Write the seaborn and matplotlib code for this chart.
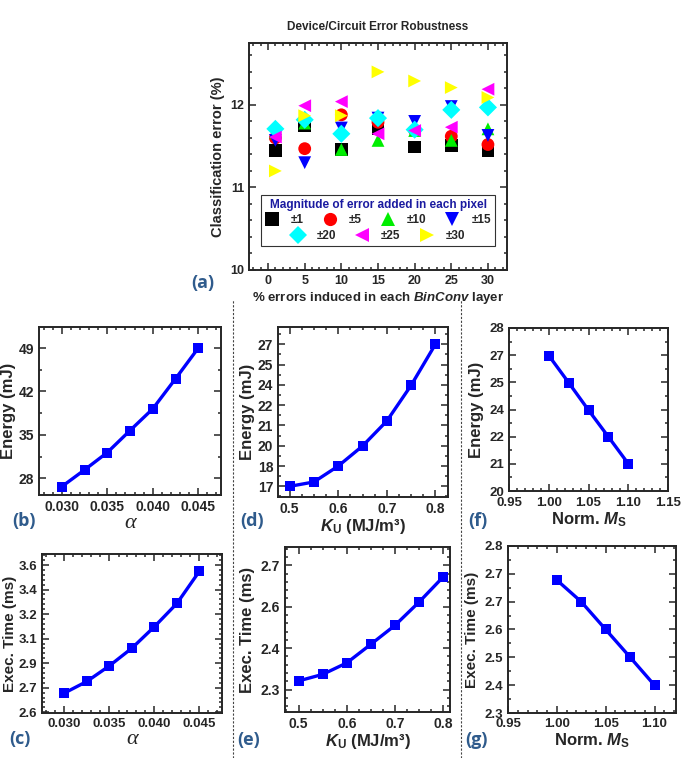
import matplotlib
matplotlib.use("Agg")
import matplotlib.pyplot as plt
import numpy as np
import pandas as pd
import seaborn as sns
from matplotlib.lines import Line2D
from matplotlib.ticker import MultipleLocator, AutoMinorLocator, FixedLocator, FixedFormatter, FormatStrFormatter

sns.set_style("ticks")
plt.rcParams['font.family'] = ['Liberation Sans', 'DejaVu Sans']
plt.rcParams['font.weight'] = 'bold'
plt.rcParams['axes.labelweight'] = 'bold'
plt.rcParams['mathtext.fontset'] = 'custom'
plt.rcParams['mathtext.it'] = 'Liberation Sans:italic:bold'
plt.rcParams['mathtext.rm'] = 'Liberation Sans:bold'
plt.rcParams['mathtext.bf'] = 'Liberation Sans:bold'

# (a) classification error vs % errors per BinConv layer
pct = [1, 5, 10, 15, 20, 25, 30]
magnitudes = ['±1', '±5', '±10', '±15', '±20', '±25', '±30']
err_1 = [11.45, 11.75, 11.46, 11.71, 11.49, 11.51, 11.45]
err_5 = [11.60, 11.47, 11.88, 11.79, 11.69, 11.62, 11.52]
err_10 = [11.67, 11.78, 11.46, 11.57, 11.69, 11.57, 11.71]
err_15 = [11.57, 11.30, 11.72, 11.84, 11.80, 11.98, 11.63]
err_20 = [11.71, 11.82, 11.65, 11.84, 11.70, 11.94, 11.97]
err_25 = [11.61, 11.99, 12.04, 11.65, 11.69, 11.73, 12.19]
err_30 = [11.20, 11.87, 11.87, 12.40, 12.29, 12.21, 12.09]

# (b)/(c) damping alpha
alpha = [0.030, 0.0325, 0.035, 0.0375, 0.040, 0.0425, 0.045]
energy_alpha = [26.65, 29.35, 32.15, 35.7, 39.2, 44.05, 49.0]
time_alpha = [2.731, 2.810, 2.916, 3.036, 3.182, 3.340, 3.559]

# (d)/(e) anisotropy Ku
ku = [0.50, 0.55, 0.60, 0.65, 0.70, 0.75, 0.80]
energy_ku = [17.0, 17.31, 18.43, 19.84, 21.6, 24.11, 27.0]
time_ku = [2.328, 2.349, 2.386, 2.446, 2.507, 2.582, 2.663]

# (f)/(g) normalised Ms
ms = [1.000, 1.025, 1.050, 1.075, 1.100]
energy_ms = [26.65, 25.32, 23.97, 22.66, 21.34]
time_ms = [2.698, 2.633, 2.550, 2.467, 2.383]

# tick labels as printed in the figure
ticks_c = ['2.6', '2.7', '2.9', '3.1', '3.2', '3.4', '3.6']
ticks_d = ['17', '18', '20', '21', '22', '24', '25', '27']
ticks_e = ['2.3', '2.4', '2.6', '2.7']
ticks_f = ['20', '21', '22', '24', '25', '27', '28']
ticks_g = ['2.3', '2.4', '2.5', '2.6', '2.7', '2.7', '2.8']

BLUE = '#0000ff'
LBL = '#2f5b8c'

W, H = 692, 758
fig = plt.figure(figsize=(W / 100, H / 100), dpi=100)


def box(l, t, r, b):
    return [l / W, 1 - b / H, (r - l) / W, (b - t) / H]


def style(ax, fs=9):
    ax.tick_params(which='both', direction='in', top=True, right=True, labelsize=fs, width=1.1)
    ax.tick_params(which='major', length=5)
    ax.tick_params(which='minor', length=2.5)
    for sp in ax.spines.values():
        sp.set_linewidth(1.4)
    for t in ax.get_xticklabels() + ax.get_yticklabels():
        t.set_fontweight('bold')


# ---- panel (a)
ax = fig.add_axes(box(249, 43, 507, 270))
errs = [err_1, err_5, err_10, err_15, err_20, err_25, err_30]
rows = []
for m, e in zip(magnitudes, errs):
    for p, v in zip(pct, e):
        rows.append(dict(pct=p, magnitude=m, error=v))
df = pd.DataFrame(rows)
palette = dict(zip(magnitudes, ['#000000', '#ff0000', '#00ee00', '#0000ff', '#00ffff', '#ff00ff', '#ffff00']))
markers = dict(zip(magnitudes, ['s', 'o', '^', 'v', 'D', '<', '>']))
sns.scatterplot(data=df, x='pct', y='error', hue='magnitude', style='magnitude', palette=palette,
                markers=markers, s=85, linewidth=0, ax=ax, legend=True)
handles, labels = ax.get_legend_handles_labels()
for h in handles:
    h.set_markersize(9.5)
blank = Line2D([], [], linestyle='none')
legkw = dict(fontsize=8.5, borderpad=0.35, handlelength=1.2, handletextpad=1.0,
             columnspacing=1.6, labelspacing=0.3)
# first legend: title, frame and first row (second row kept empty)
row1 = handles[:4] + [blank] * 4
lab1 = labels[:4] + [''] * 4
order = [0, 4, 1, 5, 2, 6, 3, 7]
leg = ax.legend([row1[i] for i in order], [lab1[i] for i in order], ncol=4, loc='lower center',
                bbox_to_anchor=(0.5, 0.08), title='Magnitude of error added in each pixel',
                title_fontsize=8.5, frameon=True, fancybox=False, edgecolor='black', **legkw)
leg.get_frame().set_linewidth(0.8)
leg.get_title().set_color('#1a1aa0')
leg.get_title().set_fontweight('bold')
ax.add_artist(leg)
# second row, centred
ax.legend(handles[4:], labels[4:], ncol=3, loc='lower center', bbox_to_anchor=(0.5, 0.08),
          frameon=False, **legkw)
ax.set_xlim(-2.6, 32.6)
ax.set_ylim(10, 12.75)
ax.xaxis.set_major_locator(MultipleLocator(5))
ax.xaxis.set_minor_locator(MultipleLocator(1))
ax.yaxis.set_major_locator(MultipleLocator(1))
ax.yaxis.set_minor_locator(MultipleLocator(0.2))
ax.set_xlabel('% errors induced in each $BinConv$ layer', fontsize=9.5, labelpad=2)
ax.set_ylabel('Classification error (%)', fontsize=10.5)
ax.set_title('Device/Circuit Error Robustness', fontsize=8.5, fontweight='bold', pad=9)
style(ax, 9)


def line_panel(rect, x, y, xlim, ylim):
    ax = fig.add_axes(box(*rect))
    sns.lineplot(x=x, y=y, ax=ax, color=BLUE, linewidth=2.4, marker='s', markersize=7,
                 markeredgewidth=0)
    ax.set_xlim(*xlim)
    ax.set_ylim(*ylim)
    return ax


def custom_y(ax, lo, hi, labels, nminor):
    ax.yaxis.set_major_locator(FixedLocator(np.linspace(lo, hi, len(labels))))
    ax.yaxis.set_major_formatter(FixedFormatter(labels))
    ax.yaxis.set_minor_locator(AutoMinorLocator(nminor))


# ---- (b)
ax = line_panel((39, 327, 221, 495), alpha, energy_alpha, (0.0275, 0.0475), (25.3, 52.4))
ax.xaxis.set_major_locator(MultipleLocator(0.005))
ax.xaxis.set_minor_locator(MultipleLocator(0.001))
ax.xaxis.set_major_formatter(FormatStrFormatter('%.3f'))
ax.yaxis.set_major_locator(FixedLocator([28, 35, 42, 49]))
ax.yaxis.set_minor_locator(MultipleLocator(3.5))
ax.set_ylabel('Energy (mJ)', fontsize=12, labelpad=2)
ax.set_xlabel('α', fontsize=16, fontfamily='Liberation Serif', fontstyle='italic', fontweight='normal', labelpad=0)
style(ax, 10)

# ---- (c)
ax = line_panel((42, 554, 222, 713), alpha, time_alpha, (0.0275, 0.0475), (2.595, 3.675))
ax.xaxis.set_major_locator(MultipleLocator(0.005))
ax.xaxis.set_minor_locator(MultipleLocator(0.001))
ax.xaxis.set_major_formatter(FormatStrFormatter('%.3f'))
custom_y(ax, 2.6, 3.6, ticks_c, 5)
ax.set_ylabel('Exec. Time (ms)', fontsize=11, labelpad=1)
ax.set_xlabel('α', fontsize=16, fontfamily='Liberation Serif', fontstyle='italic', fontweight='normal', labelpad=0)
style(ax, 9.5)

# ---- (d)
ax = line_panel((278, 327, 448, 497), ku, energy_ku, (0.476, 0.826), (16.25, 28.22))
ax.xaxis.set_major_locator(MultipleLocator(0.1))
ax.xaxis.set_minor_locator(MultipleLocator(0.025))
ax.xaxis.set_major_formatter(FormatStrFormatter('%.1f'))
custom_y(ax, 17, 27, ticks_d, 2)
ax.set_ylabel('Energy (mJ)', fontsize=12, labelpad=2)
ax.set_xlabel(r'$K_\mathrm{U}$ (MJ/m³)', fontsize=12, labelpad=1)
style(ax, 10)

# ---- (e)
ax = line_panel((285, 547, 450, 712), ku, time_ku, (0.472, 0.814), (2.228, 2.759))
ax.xaxis.set_major_locator(MultipleLocator(0.1))
ax.xaxis.set_minor_locator(MultipleLocator(0.025))
ax.xaxis.set_major_formatter(FormatStrFormatter('%.1f'))
custom_y(ax, 2.3, 2.7, ticks_e, 5)
ax.set_ylabel('Exec. Time (ms)', fontsize=12)
ax.set_xlabel(r'$K_\mathrm{U}$ (MJ/m³)', fontsize=12, labelpad=1)
style(ax, 10)

# ---- (f)
ax = line_panel((509, 328, 668, 491), ms, energy_ms, (0.95, 1.15), (20, 28))
ax.xaxis.set_major_locator(MultipleLocator(0.05))
ax.xaxis.set_minor_locator(MultipleLocator(0.01))
ax.xaxis.set_major_formatter(FormatStrFormatter('%.2f'))
custom_y(ax, 20, 28, ticks_f, 2)
ax.set_ylabel('Energy (mJ)', fontsize=12)
ax.set_xlabel(r'Norm. $M_\mathrm{S}$', fontsize=12, labelpad=1)
style(ax, 9.5)
ax.tick_params(axis='x', pad=4.5)

# ---- (g)
ax = line_panel((508, 546, 676, 713), ms, time_ms, (0.95, 1.122), (2.3, 2.8))
ax.xaxis.set_major_locator(MultipleLocator(0.05))
ax.xaxis.set_minor_locator(MultipleLocator(0.01))
ax.xaxis.set_major_formatter(FormatStrFormatter('%.2f'))
custom_y(ax, 2.3, 2.8, ticks_g, 2)
ax.set_ylabel('Exec. Time (ms)', fontsize=11)
ax.set_xlabel(r'Norm. $M_\mathrm{S}$', fontsize=12, labelpad=1)
style(ax, 9.5)

# dashed dividers between columns
for xd in (233, 461):
    fig.add_artist(Line2D([xd / W, xd / W], [0, 1 - 300 / H], transform=fig.transFigure,
                          color='#444444', lw=0.8, ls=(0, (2, 1.5))))

# panel letters
for lab, (px, py) in {'(a)': (203, 283), '(b)': (24, 521), '(c)': (20, 739), '(d)': (252, 521),
                      '(e)': (249, 740), '(f)': (478, 521), '(g)': (477, 740)}.items():
    fig.text(px / W, 1 - py / H, lab, color=LBL, fontsize=13, fontweight='bold',
             fontfamily=['Open Sans', 'DejaVu Sans'], ha='center', va='center')

fig.savefig('out.png', dpi=100)
